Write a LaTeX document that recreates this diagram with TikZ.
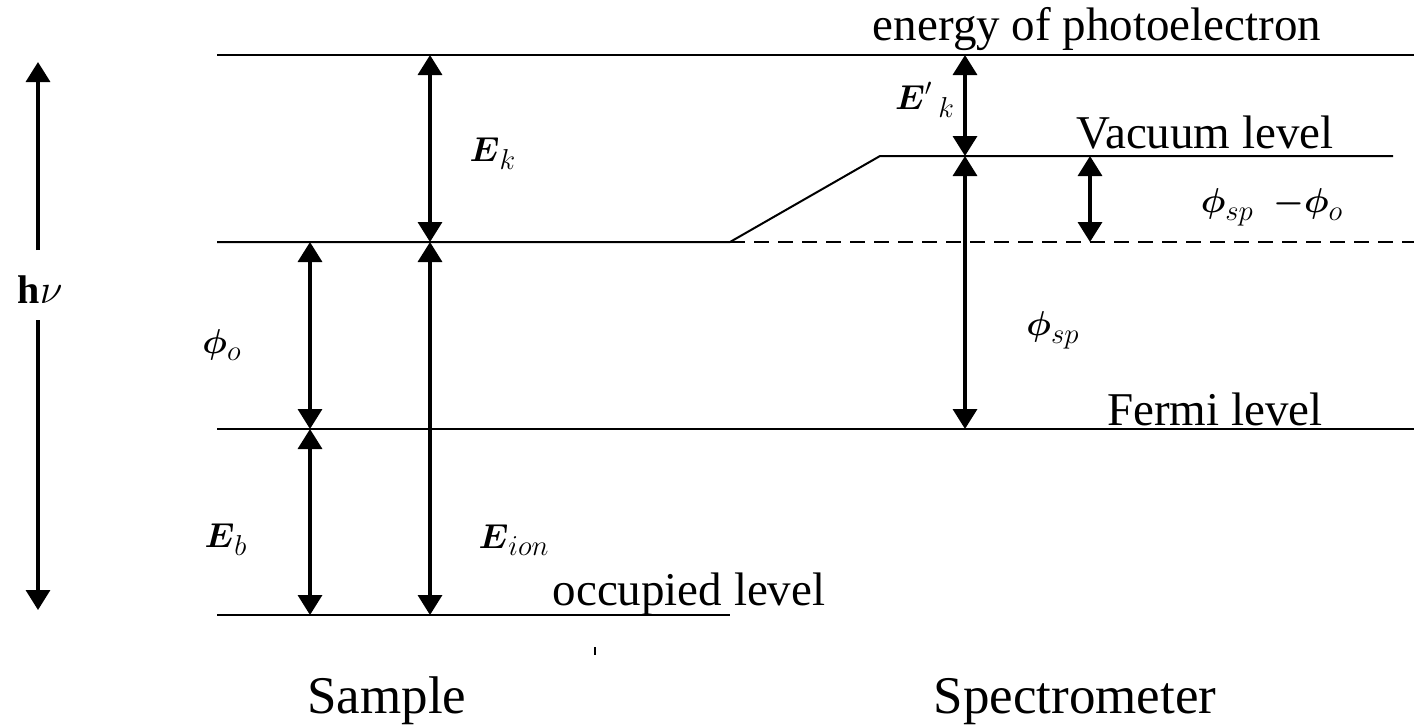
\documentclass[tikz,border=0pt]{standalone}
\usepackage{amsmath}
\usepackage{fontspec}
\setmainfont{Liberation Serif}
\usetikzlibrary{arrows.meta}
\newcommand{\lsub}[1]{_{\mbox{\fontsize{15}{15}\selectfont$#1$}}}
\begin{document}
\begin{tikzpicture}[x=0.5pt,y=-0.5pt,
  level/.style={line width=1pt},
  dashlevel/.style={line width=1pt, dash pattern=on 7.5pt off 4.5pt},
  dimarrow/.style={line width=1.7pt, {Triangle[width=12pt,length=10pt]}-{Triangle[width=12pt,length=10pt]}},
  uparrow/.style={line width=1.7pt, -{Triangle[width=12pt,length=10pt]}},
  lbl/.style={font=\fontsize{17.5}{20}\selectfont, inner sep=0pt},
  txt/.style={font=\fontsize{23.5}{28}\selectfont, inner sep=0pt, anchor=base},
  bigtxt/.style={font=\fontsize{26.5}{30}\selectfont, inner sep=0pt, anchor=base}]
\useasboundingbox (0,0) rectangle (1414,725);
% level coordinates
\coordinate (topL) at (217,55);   \coordinate (topR) at (1414,55);
\coordinate (vacL) at (217,242);  \coordinate (vacM) at (730,242);
\coordinate (vacD) at (1414,242);
\coordinate (spA) at (880,156);   \coordinate (spB) at (1393,156);
\coordinate (ferL) at (217,429);  \coordinate (ferR) at (1414,429);
\coordinate (occL) at (217,615);  \coordinate (occR) at (730,615);
% levels
\draw[level] (topL) -- (topR);
\draw[level] (vacL) -- (vacM) -- (spA) -- (spB);
\draw[dashlevel] (vacM) -- (vacD);
\draw[level] (ferL) -- (ferR);
\draw[level] (occL) -- (occR);
% arrow end points
\coordinate (ek1) at (430,55);   \coordinate (ek2) at (430,242);
\coordinate (ei1) at (430,242);  \coordinate (ei2) at (430,615);
\coordinate (po1) at (310,242);  \coordinate (po2) at (310,429);
\coordinate (eb1) at (310,429);  \coordinate (eb2) at (310,615);
\coordinate (ekp1) at (965,55);  \coordinate (ekp2) at (965,156);
\coordinate (ps1) at (965,156);  \coordinate (ps2) at (965,429);
\coordinate (pd1) at (1090,156); \coordinate (pd2) at (1090,242);
\coordinate (hv1) at (38,62);    \coordinate (hv2) at (38,610);
\coordinate (hva) at (38,250);   \coordinate (hvb) at (38,320);
% labels
\node[lbl, font=\fontsize{20}{22}\selectfont] (hv) at (40,290) {$\mathbf{h}\nu$};
\node[lbl] (Ek) at (493,154) {$\boldsymbol{E}\lsub{k}$};
\node[lbl] (Ekp) at (925,100) {${\boldsymbol{E}^{\prime}}\,\lsub{k}$};
\node[lbl] (pd) at (1272,207) {$\boldsymbol{\phi}\lsub{sp}\;\;{\boldsymbol{-}}\boldsymbol{\phi}\lsub{o}$};
\node[lbl] (psp) at (1053,330) {$\boldsymbol{\phi}\lsub{sp}$};
\node[lbl] (po) at (222,345) {$\boldsymbol{\phi}\lsub{o}$};
\node[lbl] (Eb) at (226,540) {$\boldsymbol{E}\lsub{b}$};
\node[lbl] (Eion) at (514,540) {$\boldsymbol{E}\lsub{ion}$};
% arrows
\draw[dimarrow] (ek1) -- (ek2);
\draw[dimarrow] (ei1) -- (ei2);
\draw[dimarrow] (po1) -- (po2);
\draw[dimarrow] (eb1) -- (eb2);
\draw[dimarrow] (ekp1) -- (ekp2);
\draw[dimarrow] (ps1) -- (ps2);
\draw[dimarrow] (pd1) -- (pd2);
\draw[uparrow] (hva) -- (hv1);
\draw[uparrow] (hvb) -- (hv2);
% texts
\node[txt] (t1) at (1097,40) {energy of photoelectron};
\node[txt] (t2) at (1205,148) {Vacuum level};
\node[txt] (t3) at (1215,425) {Fermi level};
\node[txt] (t4) at (689,605) {occupied level};
\node[bigtxt] (t5) at (387,713) {Sample};
\node[bigtxt] (t6) at (1075,713) {Spectrometer};
\coordinate (tk1) at (595,647); \coordinate (tk2) at (595,655);
\draw[line width=0.8pt] (tk1) -- (tk2);
\end{tikzpicture}
\end{document}
